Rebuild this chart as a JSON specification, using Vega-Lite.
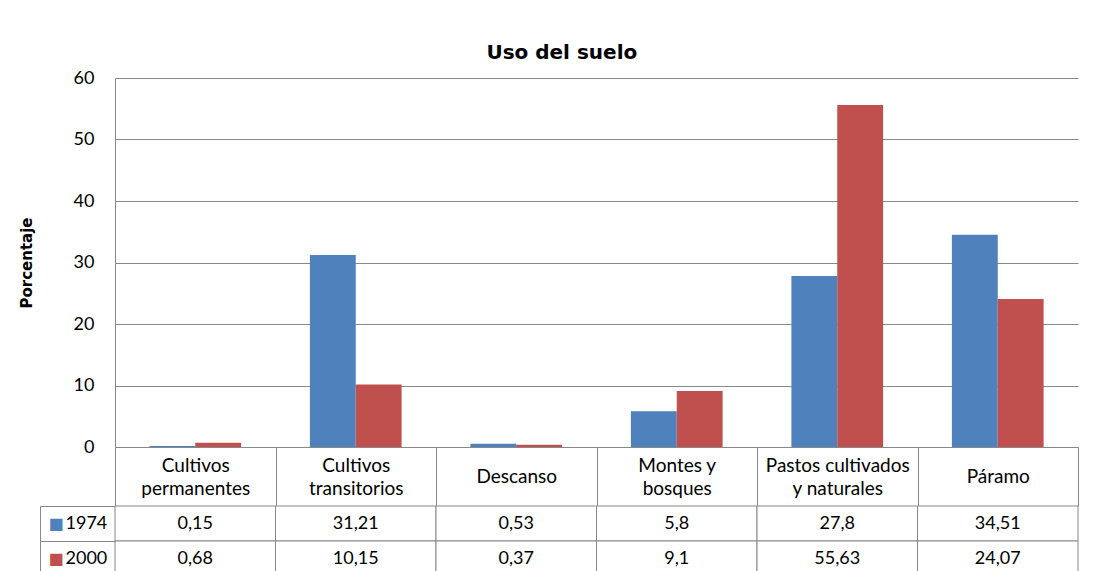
{
  "$schema": "https://vega.github.io/schema/vega-lite/v6.json",
  "padding": {"left": 19, "top": 43, "right": 20, "bottom": 0},
  "title": {"text": "Uso del suelo", "font": "DejaVu Sans", "fontSize": 20, "fontWeight": "bold", "color": "#000", "anchor": "middle", "dx": 13, "offset": 6},
  "data": {"values": [
    {"categoria": "Cultivos permanentes", "anio": "1974", "valor": 0.15},
    {"categoria": "Cultivos permanentes", "anio": "2000", "valor": 0.68},
    {"categoria": "Cultivos transitorios", "anio": "1974", "valor": 31.21},
    {"categoria": "Cultivos transitorios", "anio": "2000", "valor": 10.15},
    {"categoria": "Descanso", "anio": "1974", "valor": 0.53},
    {"categoria": "Descanso", "anio": "2000", "valor": 0.37},
    {"categoria": "Montes y bosques", "anio": "1974", "valor": 5.8},
    {"categoria": "Montes y bosques", "anio": "2000", "valor": 9.1},
    {"categoria": "Pastos cultivados y naturales", "anio": "1974", "valor": 27.8},
    {"categoria": "Pastos cultivados y naturales", "anio": "2000", "valor": 55.63},
    {"categoria": "Páramo", "anio": "1974", "valor": 34.51},
    {"categoria": "Páramo", "anio": "2000", "valor": 24.07}
  ]},
  "bounds": "flush",
  "spacing": 59,
  "vconcat": [
    {
      "width": 963,
      "height": 369,
      "mark": {"type": "bar"},
      "encoding": {
        "x": {"field": "categoria", "type": "nominal", "sort": null,
          "scale": {"paddingInner": 0, "paddingOuter": 0},
          "axis": {"title": null, "domainColor": "#888", "tickColor": "#888", "tickBand": "extent", "tickSize": 59,
            "labelAngle": 0, "labelBaseline": "middle", "labelLineHeight": 23, "labelLimit": 0, "labelFontSize": 19,
            "labelPadding": {"condition": {"test": "datum.value == 'Descanso' || datum.value == 'Páramo'", "value": -29.5}, "value": -41},
            "labelExpr": "datum.label == 'Cultivos permanentes' ? ['Cultivos', 'permanentes'] : datum.label == 'Cultivos transitorios' ? ['Cultivos', 'transitorios'] : datum.label == 'Montes y bosques' ? ['Montes y', 'bosques'] : datum.label == 'Pastos cultivados y naturales' ? ['Pastos cultivados', 'y naturales'] : datum.label"}},
        "xOffset": {"field": "anio", "type": "nominal", "scale": {"paddingInner": 0, "paddingOuter": 0.75}},
        "y": {"field": "valor", "type": "quantitative", "scale": {"domain": [0, 60], "nice": false},
          "axis": {"title": "Porcentaje", "values": [0, 10, 20, 30, 40, 50, 60], "grid": true, "gridColor": "#888",
            "domainColor": "#888", "ticks": false, "tickSize": 0, "labelPadding": 21, "titlePadding": 39,
            "titleFont": "DejaVu Sans", "titleFontSize": 15, "titleFontWeight": "bold"}},
        "color": {"field": "anio", "type": "nominal", "scale": {"range": ["#4F81BD", "#C0504D"]}, "legend": null}
      }
    },
    {
      "width": 963,
      "height": 70,
      "layer": [
        {
          "mark": {"type": "rect", "fill": "white", "stroke": "#888", "strokeWidth": 1},
          "encoding": {
            "x": {"field": "categoria", "type": "nominal", "sort": null, "scale": {"paddingInner": 0, "paddingOuter": 0}, "axis": null},
            "y": {"field": "anio", "type": "nominal", "scale": {"paddingInner": 0, "paddingOuter": 0},
              "axis": {"title": null, "orient": "left", "domain": false, "tickBand": "extent", "tickSize": 75, "tickColor": "#888",
                "labelAlign": "left", "labelBaseline": "middle", "labelPadding": -25}}
          }
        },
        {
          "mark": {"type": "text", "font": "Lato", "fontSize": 18, "color": "#000"},
          "encoding": {
            "x": {"field": "categoria", "type": "nominal", "sort": null, "axis": null},
            "y": {"field": "anio", "type": "nominal",
              "axis": {"title": null, "orient": "left", "offset": 75, "domain": true, "domainColor": "#888", "ticks": false, "tickSize": 0,
                "labelExpr": "'■'", "labelAlign": "left", "labelBaseline": "middle", "labelPadding": -8, "labelFont": "DejaVu Sans", "labelFontSize": 16,
                "labelColor": {"condition": {"test": "datum.value == '1974'", "value": "#4F81BD"}, "value": "#C0504D"}}},
            "text": {"field": "valor", "type": "quantitative", "format": ""}
          }
        }
      ],
      "resolve": {"axis": {"y": "independent"}}
    }
  ],
  "config": {
    "font": "Lato",
    "view": {"stroke": null},
    "axis": {"labelFont": "Lato", "labelFontSize": 18, "labelColor": "#000", "titleFont": "Lato", "titleColor": "#000"},
    "locale": {"number": {"decimal": ",", "thousands": ".", "grouping": [3], "currency": ["", " €"]}}
  }
}
